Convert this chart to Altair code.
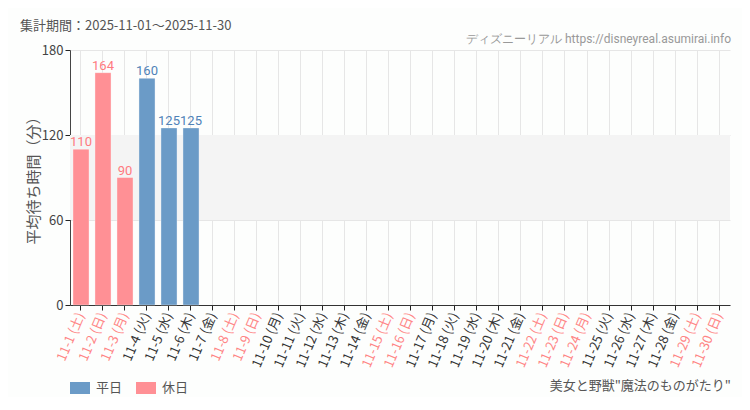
import altair as alt
import pandas as pd

days = list(range(1, 31))
weekdays = ["土","日","月","火","水","木","金","土","日","月","火","水","木","金",
            "土","日","月","火","水","木","金","土","日","月","火","水","木","金","土","日"]
holiday_days = [1, 2, 3, 8, 9, 15, 16, 22, 23, 24, 29, 30]
values = [110, 164, 90, 160, 125, 125] + [None] * 24

labels = [f"11-{d} ({w})" for d, w in zip(days, weekdays)]
types = ["休日" if d in holiday_days else "平日" for d in days]

title_text = "集計期間：2025-11-01～2025-11-30"
source_text = "ディズニーリアル https://disneyreal.asumirai.info"
attraction_text = "美女と野獣\"魔法のものがたり\""
y_title = "平均待ち時間（分）"

df = pd.DataFrame({"label": labels, "value": values, "type": types})
bars_df = df.dropna()

BLUE = "#6b9bc7"
PINK = "#ff9095"
BLUE_T = "#4f82b8"
PINK_T = "#ff7a80"

holiday_labels = [l for l, t in zip(labels, types) if t == "休日"]
hol_js = "[" + ",".join("'" + l + "'" for l in holiday_labels) + "]"

W, H = 660, 255
FONT = "Noto Sans CJK JP"
NARROW = "Roboto"

xscale = alt.Scale(domain=labels, paddingInner=0.27, paddingOuter=0.135)
yscale = alt.Scale(domain=[0, 180])

band = alt.Chart(pd.DataFrame({"lo": [60], "hi": [120]})).mark_rect(
    color="#f4f4f4"
).encode(y=alt.Y("lo:Q", scale=yscale), y2="hi:Q")

base_axis = alt.Chart(df).mark_bar(opacity=0).encode(
    x=alt.X("label:N", scale=xscale, sort=labels, title=None,
            axis=alt.Axis(labelAngle=-67, labelFontSize=13, labelFont=FONT,
                          labelColor={"condition": {"test": f"indexof({hol_js}, datum.value) >= 0",
                                                    "value": "#ff8585"},
                                      "value": "#333333"},
                          grid=True, gridColor="#e6e6e6", tickColor="#222", tickSize=5,
                          domainColor="#333", labelPadding=3)),
    y=alt.Y("value:Q", scale=yscale, title=None,
            axis=alt.Axis(values=[0, 60, 120, 180], labelFontSize=13, labelFont=FONT,
                          labelColor="#444", grid=True, gridColor="#e6e6e6",
                          tickColor="#222", tickSize=5, domainColor="#444", labelPadding=2)),
)

bars = alt.Chart(bars_df).mark_bar(stroke="white", strokeOpacity=0.35, strokeWidth=1).encode(
    x=alt.X("label:N", scale=xscale, sort=labels),
    y=alt.Y("value:Q", scale=yscale),
    color=alt.Color("type:N", scale=alt.Scale(domain=["平日", "休日"], range=[BLUE, PINK]),
                    legend=alt.Legend(title=None, orient="none", legendX=0, legendY=328,
                                      direction="horizontal",
                                      symbolType="M-1,-0.6L1,-0.6L1,0.6L-1,0.6Z",
                                      symbolSize=400, symbolStrokeWidth=0, symbolOpacity=1,
                                      labelFont=FONT, labelFontSize=13, labelColor="#555",
                                      labelOffset=6, columnPadding=13)),
)

texts = alt.Chart(bars_df).mark_text(
    baseline="bottom", dy=0, font=NARROW, fontSize=13, fontWeight="normal"
).encode(
    x=alt.X("label:N", scale=xscale, sort=labels),
    y=alt.Y("value:Q", scale=yscale),
    text=alt.Text("value:Q", format="d"),
    color=alt.Color("type:N", scale=alt.Scale(domain=["平日", "休日"], range=[BLUE_T, PINK_T]),
                    legend=None),
)

one = pd.DataFrame({"a": [0]})
title = alt.Chart(one).mark_text(align="left", baseline="middle", font=FONT, fontSize=13,
                                 color="#555").encode(
    x=alt.value(-50), y=alt.value(-24), text=alt.value(title_text))
source = alt.Chart(one).mark_text(align="right", baseline="middle", font=NARROW, fontSize=12,
                                  color="#999").encode(
    x=alt.value(661), y=alt.value(-11), text=alt.value(source_text))
ytitle = alt.Chart(one).mark_text(align="center", baseline="middle", font=FONT, fontSize=15,
                                  color="#555", angle=270).encode(
    x=alt.value(-36), y=alt.value(127), text=alt.value(y_title))
attr = alt.Chart(one).mark_text(align="right", baseline="middle", font=FONT, fontSize=13,
                                color="#555").encode(
    x=alt.value(661), y=alt.value(336), text=alt.value(attraction_text))

chart = alt.layer(band, base_axis, bars, texts, title, source, ytitle, attr).resolve_scale(
    color="independent"
).properties(
    width=W, height=H,
    autosize=alt.AutoSizeParams(type="none"),
    padding={"left": 62, "top": 42, "right": 12, "bottom": 92},
    background="#fdfefd",
).configure_view(stroke=None)

chart.save("out.html", embed_options={"renderer": "svg", "actions": False})
